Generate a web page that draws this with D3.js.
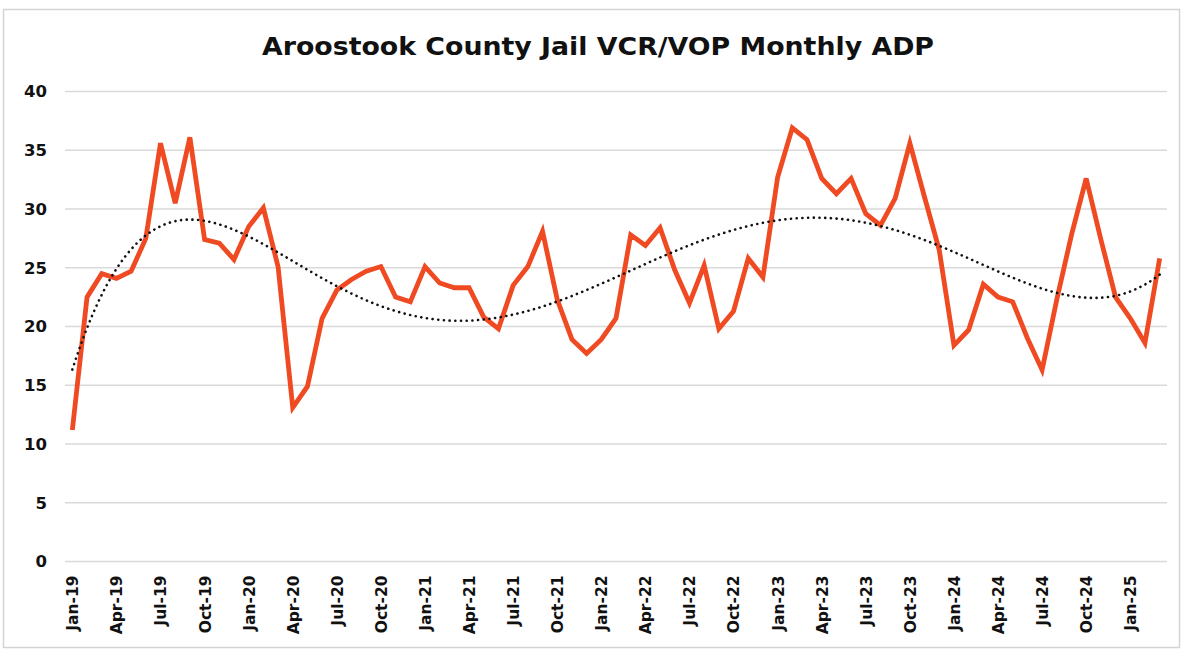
<!DOCTYPE html>
<html>
<head>
<meta charset="utf-8">
<script src="https://cdn.jsdelivr.net/npm/d3@7"></script>
<style>
  html, body { margin: 0; padding: 0; background: #fff; }
  svg { display: block; }
</style>
</head>
<body>
<svg id="chart" width="1188" height="653"></svg>
<script>
// ---- data ----
const titleText = "Aroostook County Jail VCR/VOP Monthly ADP";
const categories = [
  "Jan-19","Feb-19","Mar-19","Apr-19","May-19","Jun-19","Jul-19","Aug-19","Sep-19","Oct-19","Nov-19","Dec-19",
  "Jan-20","Feb-20","Mar-20","Apr-20","May-20","Jun-20","Jul-20","Aug-20","Sep-20","Oct-20","Nov-20","Dec-20",
  "Jan-21","Feb-21","Mar-21","Apr-21","May-21","Jun-21","Jul-21","Aug-21","Sep-21","Oct-21","Nov-21","Dec-21",
  "Jan-22","Feb-22","Mar-22","Apr-22","May-22","Jun-22","Jul-22","Aug-22","Sep-22","Oct-22","Nov-22","Dec-22",
  "Jan-23","Feb-23","Mar-23","Apr-23","May-23","Jun-23","Jul-23","Aug-23","Sep-23","Oct-23","Nov-23","Dec-23",
  "Jan-24","Feb-24","Mar-24","Apr-24","May-24","Jun-24","Jul-24","Aug-24","Sep-24","Oct-24","Nov-24","Dec-24",
  "Jan-25","Feb-25","Mar-25"
];
const adpValues = [
  11.2, 22.5, 24.5, 24.1, 24.7, 27.5, 35.6, 30.5, 36.1, 27.4, 27.1, 25.7,
  28.5, 30.1, 25.1, 13.1, 14.9, 20.7, 23.1, 24.0, 24.7, 25.1, 22.5, 22.1,
  25.1, 23.7, 23.3, 23.3, 20.8, 19.8, 23.5, 25.1, 28.1, 22.3, 18.9, 17.7,
  18.9, 20.7, 27.8, 26.9, 28.4, 24.8, 22.0, 25.2, 19.8, 21.3, 25.8, 24.2,
  32.7, 36.9, 35.9, 32.6, 31.3, 32.6, 29.6, 28.6, 30.9, 35.6, 31.0, 26.5,
  18.4, 19.7, 23.6, 22.5, 22.1, 19.0, 16.3, 22.3, 27.8, 32.6, 27.4, 22.5,
  20.7, 18.6, 25.8
];
const yTicks = [0, 5, 10, 15, 20, 25, 30, 35, 40];
const xLabelEvery = 3;
const trendOrder = 6;

// ---- polynomial trendline (least squares, like a spreadsheet trendline) ----
function polyFit(ys, order) {
  const n = ys.length, c = (n - 1) / 2;
  const ts = ys.map((_, i) => (i - c) / c);
  const m = order + 1;
  const A = Array.from({length: m}, () => new Array(m + 1).fill(0));
  ts.forEach((t, k) => {
    const p = [];
    for (let j = 0; j < m; j++) p.push(Math.pow(t, j));
    for (let r = 0; r < m; r++) {
      for (let s = 0; s < m; s++) A[r][s] += p[r] * p[s];
      A[r][m] += p[r] * ys[k];
    }
  });
  for (let col = 0; col < m; col++) {
    let piv = col;
    for (let r = col + 1; r < m; r++) if (Math.abs(A[r][col]) > Math.abs(A[piv][col])) piv = r;
    [A[col], A[piv]] = [A[piv], A[col]];
    for (let r = 0; r < m; r++) {
      if (r === col) continue;
      const f = A[r][col] / A[col][col];
      for (let s = col; s <= m; s++) A[r][s] -= f * A[col][s];
    }
  }
  const coef = A.map((row, i) => row[m] / row[i]);
  return x => { const t = (x - c) / c; let v = 0; for (let j = m - 1; j >= 0; j--) v = v * t + coef[j]; return v; };
}
const trendFn = polyFit(adpValues, trendOrder);

// ---- layout ----
const svg = d3.select("#chart");
const plot = { left: 65, right: 1167, top: 91.5, bottom: 561.5 };

svg.append("rect")
  .attr("x", 3.5).attr("y", 9.5).attr("width", 1176).attr("height", 638)
  .attr("fill", "#fff").attr("stroke", "#d4d4d4").attr("stroke-width", 1.5);

const x = d3.scalePoint()
  .domain(d3.range(categories.length))
  .range([plot.left, plot.right])
  .padding(0.5);
const y = d3.scaleLinear().domain([0, 40]).range([plot.bottom, plot.top]);

// gridlines
svg.append("g")
  .selectAll("line").data(yTicks).join("line")
  .attr("x1", plot.left).attr("x2", plot.right)
  .attr("y1", d => y(d)).attr("y2", d => y(d))
  .attr("stroke", "#d9d9d9").attr("stroke-width", 1.5);

// y axis labels
const yAxis = d3.axisLeft(y).tickValues(yTicks).tickSize(0).tickPadding(0);
const gy = svg.append("g").attr("transform", "translate(47,0)").call(yAxis);
gy.select(".domain").remove();
gy.selectAll("text")
  .attr("font-family", "'DejaVu Sans', sans-serif")
  .attr("font-weight", 700).attr("font-size", 16.5).attr("fill", "#111");

// x axis labels (rotated)
const xAxis = d3.axisBottom(x)
  .tickValues(d3.range(0, categories.length, xLabelEvery))
  .tickFormat(i => categories[i])
  .tickSize(0);
const gx = svg.append("g").attr("transform", `translate(0,${plot.bottom})`).call(xAxis);
gx.select(".domain").remove();
gx.selectAll("text")
  .attr("font-family", "'DejaVu Sans', sans-serif")
  .attr("font-weight", 700).attr("font-size", 15.5).attr("fill", "#111")
  .attr("text-anchor", "end")
  .attr("dy", "0.35em")
  .attr("transform", "translate(0,14) rotate(-90)")
  .attr("y", 0).attr("x", 0);

// data line
const line = d3.line().x((d, i) => x(i)).y(d => y(d));
svg.append("path")
  .datum(adpValues)
  .attr("d", line)
  .attr("fill", "none")
  .attr("stroke", "#EF4A22")
  .attr("stroke-width", 4.8)
  .attr("stroke-linejoin", "miter")
  .attr("stroke-linecap", "butt");

// trendline
const trendPts = d3.range(0, categories.length - 1 + 0.001, 0.25).map(i => [i, trendFn(i)]);
svg.append("path")
  .datum(trendPts)
  .attr("d", d3.line().x(d => x(0) + d[0] * x.step()).y(d => y(d[1])).curve(d3.curveLinear))
  .attr("fill", "none")
  .attr("stroke", "#111")
  .attr("stroke-width", 2.6)
  .attr("stroke-linecap", "round")
  .attr("stroke-dasharray", "0.1 5.6");

// title
svg.append("text")
  .attr("x", 598).attr("y", 55)
  .attr("text-anchor", "middle")
  .attr("font-family", "'DejaVu Sans', sans-serif")
  .attr("font-weight", 700).attr("font-size", 25)
  .attr("fill", "#111")
  .attr("textLength", 672).attr("lengthAdjust", "spacingAndGlyphs")
  .text(titleText);
</script>
</body>
</html>
